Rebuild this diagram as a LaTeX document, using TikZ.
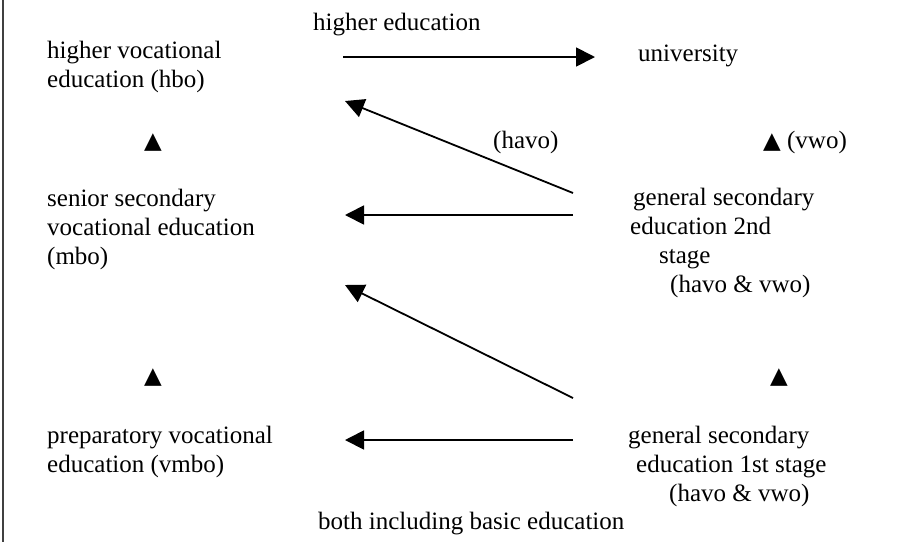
\documentclass[tikz,border=0pt]{standalone}
\usepackage{fontspec}
\setmainfont{Liberation Serif}
\newfontfamily\symfont{DejaVu Sans}
\usetikzlibrary{arrows.meta}
\begin{document}
\begin{tikzpicture}[x=1pt,y=-1pt,
  txt/.style={anchor=base west,inner sep=0pt,align=left,font=\fontsize{25}{29}\selectfont},
  tri/.style={anchor=base,inner sep=0pt,font=\symfont\fontsize{23}{24}\selectfont},
  arr/.style={line width=1.8pt,-{Triangle[length=19pt,width=19pt]}}]
\useasboundingbox (0,0) rectangle (915,542);
\fill[white] (0,0) rectangle (915,542);
\draw[line width=2pt,black!75] (3,0) -- (3,542);
% texts (multi-line nodes placed at the baseline of their last line)
\node[txt] (he) at (313,30) {higher education};
\node[txt] (hbo) at (47,87) {higher vocational\\education (hbo)};
\node[txt] (uni) at (638,61) {university};
\node[txt] (havo) at (493,148) {(havo)};
\node[txt] (vwo) at (763,148) {{\symfont\fontsize{23}{24}\selectfont ▲} (vwo)};
\node[tri] (t1) at (153,148) {▲};
\node[txt] (mbo) at (47,264) {senior secondary\\vocational education\\(mbo)};
\node[txt] (gs2) at (630,292) {\hspace*{3pt}general secondary\\education 2nd\\\hspace*{29pt}stage\\\hspace*{40pt}(havo \& vwo)};
\node[tri] (t2) at (153,383) {▲};
\node[tri] (t3) at (779,383) {▲};
\node[txt] (vmbo) at (47,472) {preparatory vocational\\education (vmbo)};
\node[txt] (gs1) at (628,501) {general secondary\\\hspace*{8pt}education 1st stage\\\hspace*{41pt}(havo \& vwo)};
\node[txt] (basic) at (318,529) {both including basic education};
% connector ends
\coordinate (a1s) at (343,57);  \coordinate (a1e) at (595,57);
\coordinate (a2s) at (573,193); \coordinate (a2e) at (345,101);
\coordinate (a3s) at (573,215); \coordinate (a3e) at (345,215);
\coordinate (a4s) at (573,398); \coordinate (a4e) at (345,285);
\coordinate (a5s) at (573,440); \coordinate (a5e) at (345,440);
\draw[arr] (a1s) -- (a1e);
\draw[arr] (a2s) -- (a2e);
\draw[arr] (a3s) -- (a3e);
\draw[arr] (a4s) -- (a4e);
\draw[arr] (a5s) -- (a5e);
\end{tikzpicture}
\end{document}
